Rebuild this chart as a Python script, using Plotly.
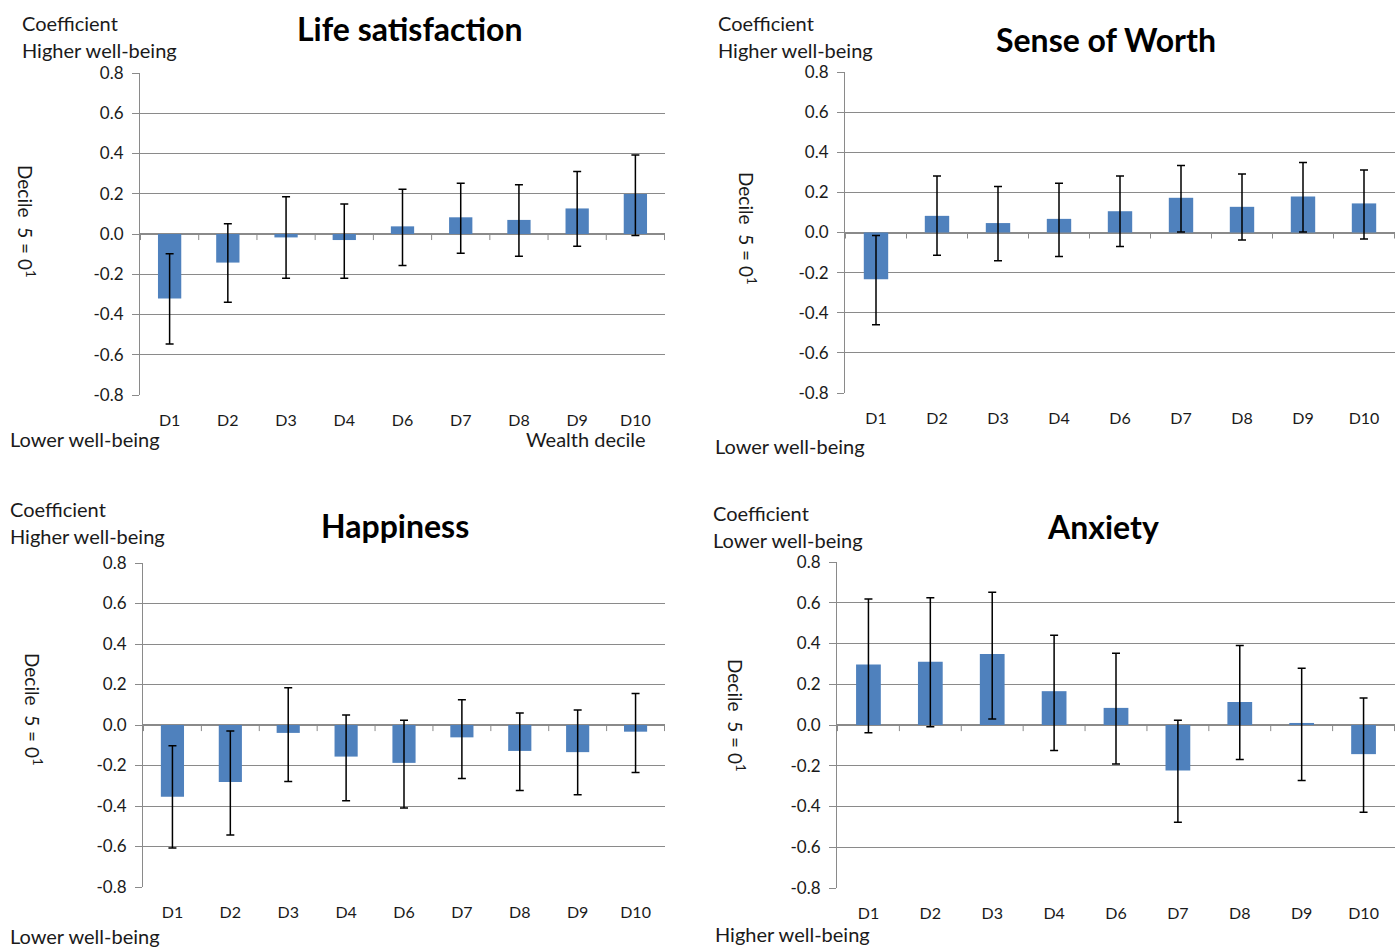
import plotly.graph_objects as go

W, H = 1400, 947

deciles = ["D1", "D2", "D3", "D4", "D6", "D7", "D8", "D9", "D10"]
y_tick_vals = [-0.8, -0.6, -0.4, -0.2, 0.0, 0.2, 0.4, 0.6, 0.8]
y_tick_text = ["-0.8", "-0.6", "-0.4", "-0.2", "0.0", "0.2", "0.4", "0.6", "0.8"]

life_coef = [-0.321, -0.142, -0.017, -0.030, 0.038, 0.083, 0.070, 0.127, 0.199]
life_upper = [-0.098, 0.051, 0.185, 0.149, 0.222, 0.252, 0.245, 0.311, 0.392]
life_lower = [-0.546, -0.339, -0.220, -0.220, -0.156, -0.096, -0.111, -0.061, -0.007]

worth_coef = [-0.233, 0.083, 0.047, 0.068, 0.106, 0.173, 0.128, 0.179, 0.145]
worth_upper = [-0.015, 0.282, 0.229, 0.246, 0.282, 0.334, 0.291, 0.349, 0.311]
worth_lower = [-0.460, -0.113, -0.141, -0.120, -0.070, 0.002, -0.038, 0.002, -0.032]

happy_coef = [-0.354, -0.282, -0.039, -0.156, -0.187, -0.061, -0.128, -0.134, -0.033]
happy_upper = [-0.103, -0.030, 0.184, 0.049, 0.023, 0.125, 0.059, 0.074, 0.156]
happy_lower = [-0.608, -0.543, -0.279, -0.374, -0.410, -0.264, -0.323, -0.344, -0.234]

anx_coef = [0.297, 0.310, 0.349, 0.166, 0.084, -0.223, 0.113, 0.010, -0.143]
anx_upper = [0.618, 0.625, 0.652, 0.441, 0.352, 0.023, 0.390, 0.279, 0.133]
anx_lower = [-0.038, -0.008, 0.030, -0.125, -0.192, -0.477, -0.169, -0.272, -0.428]

FONT = "Lato"
BAR = "#4F81BD"
GRID = "#8a8a8a"
TXT = "#1a1a1a"


def px(x):
    return x / W


def py(y):
    return 1 - y / H


panels = [
    dict(title="Life satisfaction", coef=life_coef, up=life_upper, lo=life_lower,
         dom=(140, 665, 73, 395), title_xy=(410, 28),
         top=[("Coefficient", 20, 23), ("Higher well-being", 20, 50)],
         bottom=[("Lower well-being", 8, 439, "left"), ("Wealth decile", 648, 439, "right")],
         side=(27, 221)),
    dict(title="Sense of Worth", coef=worth_coef, up=worth_upper, lo=worth_lower,
         dom=(845, 1395, 72, 393), title_xy=(1106, 39),
         top=[("Coefficient", 716, 23), ("Higher well-being", 716, 50)],
         bottom=[("Lower well-being", 713, 446, "left")],
         side=(748, 228)),
    dict(title="Happiness", coef=happy_coef, up=happy_upper, lo=happy_lower,
         dom=(143, 665, 563, 887), title_xy=(395, 525),
         top=[("Coefficient", 8, 509), ("Higher well-being", 8, 536)],
         bottom=[("Lower well-being", 8, 936, "left")],
         side=(34, 709)),
    dict(title="Anxiety", coef=anx_coef, up=anx_upper, lo=anx_lower,
         dom=(837, 1395, 562, 888), title_xy=(1103, 526),
         top=[("Coefficient", 711, 513), ("Lower well-being", 711, 540)],
         bottom=[("Higher well-being", 713, 934, "left")],
         side=(737, 715)),
]

fig = go.Figure()
annotations = []
shapes = []

for i, p in enumerate(panels):
    n = i + 1
    xa = "x" if n == 1 else f"x{n}"
    ya = "y" if n == 1 else f"y{n}"
    plus = [u - c for u, c in zip(p["up"], p["coef"])]
    minus = [c - l for c, l in zip(p["coef"], p["lo"])]
    fig.add_trace(go.Bar(
        x=deciles, y=p["coef"], xaxis=xa, yaxis=ya,
        marker=dict(color=BAR, line=dict(width=0)),
        error_y=dict(type="data", symmetric=False, array=plus, arrayminus=minus,
                     color="black", thickness=1.5, width=4),
        showlegend=False,
    ))
    x0, x1, yt, yb = p["dom"]
    xkey = "xaxis" if n == 1 else f"xaxis{n}"
    ykey = "yaxis" if n == 1 else f"yaxis{n}"
    fig.update_layout(**{
        xkey: dict(domain=[px(x0), px(x1)], anchor=ya, type="category",
                   showgrid=False, showline=False, ticks="", zeroline=False,
                   automargin=False, ticklabelstandoff=14,
                   tickfont=dict(family=FONT, size=16, color=TXT)),
        ykey: dict(domain=[py(yb), py(yt)], anchor=xa, range=[-0.8, 0.8],
                   tickvals=y_tick_vals, ticktext=y_tick_text,
                   showgrid=True, gridcolor=GRID, gridwidth=1,
                   showline=True, linecolor=GRID, linewidth=1,
                   ticks="outside", ticklen=7, tickcolor=GRID,
                   zeroline=True, zerolinecolor=GRID, zerolinewidth=1.5,
                   automargin=False, ticklabelstandoff=5,
                   tickfont=dict(family=FONT, size=17, color=TXT)),
    })
    # category boundary tick marks on the zero line
    for k in range(len(deciles) + 1):
        shapes.append(dict(type="line", xref=xa, yref=ya, x0=k - 0.5, x1=k - 0.5,
                           y0=0, y1=-0.03, line=dict(color=GRID, width=1)))
    tx, ty = p["title_xy"]
    annotations.append(dict(text="<b>" + p["title"] + "</b>", x=px(tx), y=py(ty),
                            xref="paper", yref="paper", xanchor="center", yanchor="middle",
                            showarrow=False, font=dict(family=FONT, size=32, color="black")))
    for txt, lx, ly in p["top"]:
        annotations.append(dict(text=txt, x=px(lx), y=py(ly), xref="paper", yref="paper",
                                xanchor="left", yanchor="middle", showarrow=False,
                                font=dict(family=FONT, size=20, color=TXT)))
    for txt, lx, ly, anc in p["bottom"]:
        annotations.append(dict(text=txt, x=px(lx), y=py(ly), xref="paper", yref="paper",
                                xanchor=anc, yanchor="middle", showarrow=False,
                                font=dict(family=FONT, size=20, color=TXT)))
    sx, sy = p["side"]
    annotations.append(dict(text="Decile  5 = 0<sup>1</sup>", x=px(sx), y=py(sy),
                            xref="paper", yref="paper", xanchor="center", yanchor="middle",
                            textangle=90, showarrow=False,
                            font=dict(family=FONT, size=19, color=TXT)))

fig.update_layout(
    width=W, height=H, margin=dict(l=0, r=0, t=0, b=0, autoexpand=False),
    paper_bgcolor="white", plot_bgcolor="white",
    bargap=0.6, annotations=annotations, shapes=shapes,
    font=dict(family=FONT), hovermode=False,
)

fig.write_html("out.html", config={"displayModeBar": False},
               post_script="document.body.style.margin='0';document.body.style.overflow='hidden';")
